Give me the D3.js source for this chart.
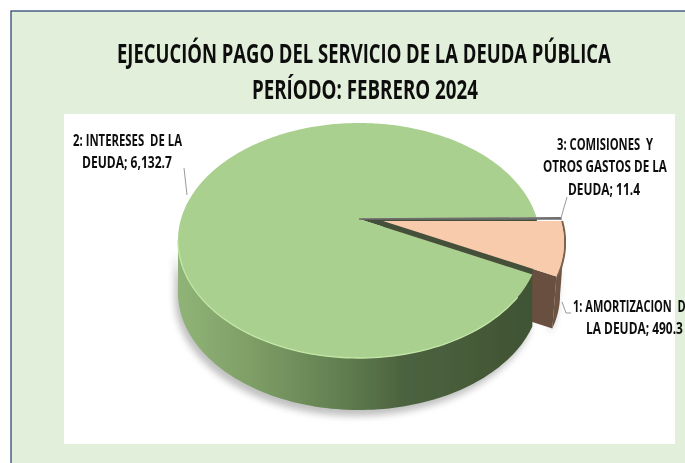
<!DOCTYPE html>
<html><head><meta charset="utf-8">
<script src="https://cdn.jsdelivr.net/npm/d3@7/dist/d3.min.js"></script>
<style>html,body{margin:0;padding:0;background:#fff;overflow:hidden}svg{display:block}
text{font-family:"Open Sans","Liberation Sans",sans-serif;font-weight:700;fill:#111;white-space:pre}</style>
</head><body><svg id="c" width="685" height="463"></svg>
<script>
const titleLines = ["EJECUCIÓN PAGO DEL SERVICIO DE LA DEUDA PÚBLICA", "PERÍODO: FEBRERO 2024"];
const categories = ["1: AMORTIZACION", "2: INTERESES", "3: COMISIONES"];
const values = [490.3, 6132.7, 11.4];
const labelLines = [["1: AMORTIZACION  DE", "LA DEUDA; "], ["2: INTERESES  DE LA", "DEUDA; "], ["3: COMISIONES  Y", "OTROS GASTOS DE LA", "DEUDA; "]];
const colors = ["#f8cbad", "#a9d08e", "#7f7f7f"];

const svg = d3.select("#c");
const defs = svg.append("defs");
defs.append("filter").attr("id","soft").append("feGaussianBlur").attr("stdDeviation",0.45);
defs.append("filter").attr("id","shadow").attr("x","-20%").attr("y","-20%").attr("width","140%").attr("height","140%")
  .append("feGaussianBlur").attr("stdDeviation",3.5);
const wg = defs.append("linearGradient").attr("id","wallG").attr("gradientUnits","userSpaceOnUse")
  .attr("x1",176).attr("x2",540).attr("y1",0).attr("y2",0);
[[0,"#90b478"],[0.2,"#7f9f67"],[0.45,"#617f50"],[0.62,"#4d6340"],[1,"#3f5232"]].forEach(s=>wg.append("stop").attr("offset",s[0]).attr("stop-color",s[1]));

// panel
svg.append("rect").attr("x",11).attr("y",11).attr("width",680).attr("height",460).attr("fill","#e2efda").attr("stroke","#23396b").attr("stroke-width",1.2);
svg.append("rect").attr("x",64).attr("y",114).attr("width",611).attr("height",330).attr("fill","#fff");

// perspective pie
const cx=359, cy=219, R=178, depth=52, c=-0.183, a=73.5;
const project = (theta, r=1) => {
  const u=r*Math.sin(theta), v=-r*Math.cos(theta), w=1+c*v;
  return [cx+R*u/w, (a*v+cy)/w];
};
const arcs = d3.pie().sort(null).startAngle(Math.PI/2).endAngle(Math.PI/2+2*Math.PI)(values);
const [pPeach, pGreen, pThin] = arcs;
const samples = (s,e) => d3.range(0,241).map(i=>s+(e-s)*i/240);
const line = d3.line();
const shift=(p,dx,dy)=>[p[0]+dx,p[1]+dy];
const explodeX=24, explodeY=2, taper=-4;
const isFront = t => -Math.cos(t) >= -c;

const gFront = samples(pGreen.startAngle,pGreen.endAngle).filter(isFront).map(t=>project(t));
const pFront = samples(pPeach.startAngle,pPeach.endAngle).filter(isFront).map(t=>shift(project(t),explodeX,explodeY));
const wallPath = (pts,dx=0) => line(pts.concat(pts.slice().reverse().map(p=>shift(p,dx,depth))))+"Z";

// shadow
const sg = svg.append("g").attr("filter","url(#shadow)").attr("transform","translate(-3,6)").attr("fill","#8c8c8c").attr("opacity",0.55);
sg.append("path").attr("d",wallPath(gFront));
sg.append("path").attr("d",wallPath(pFront,taper));

// peach cut wall
const pApex=[cx+explodeX,cy+explodeY];
const pCorner=shift(project(pPeach.endAngle),explodeX,explodeY);
svg.append("path").attr("filter","url(#soft)").attr("fill","#69503f")
  .attr("d",line([pApex,pCorner,shift(pCorner,taper,depth),shift(pApex,taper,depth)])+"Z");

// green wall and top
svg.append("path").attr("filter","url(#soft)").attr("fill","url(#wallG)").attr("d",wallPath(gFront));
const notch=[[cx,cy],project(pGreen.startAngle),project(pThin.endAngle)];
svg.append("path").attr("fill","#44503a").attr("d",line(notch)+"Z");
svg.append("path").attr("filter","url(#soft)").attr("fill",colors[1])
  .attr("d",line([[cx,cy]].concat(samples(pGreen.startAngle,pGreen.endAngle).map(t=>project(t))))+"Z");
svg.append("path").attr("fill","none").attr("stroke","#c2e6a6").attr("stroke-width",1.3).attr("filter","url(#soft)").attr("d",line(gFront.slice(8)));

// peach wall, rim and top
svg.append("path").attr("filter","url(#soft)").attr("fill","#6d5342").attr("d",wallPath(pFront,taper));
const pArc=samples(pPeach.startAngle,pPeach.endAngle).map(t=>shift(project(t),explodeX,explodeY));
svg.append("path").attr("fill","none").attr("stroke","#7d6250").attr("stroke-width",2.2).attr("filter","url(#soft)")
  .attr("d",line(pArc.map(p=>shift(p,1,0))));
svg.append("path").attr("filter","url(#soft)").attr("fill",colors[0])
  .attr("d",line([pApex].concat(pArc))+"Z");
// thin slice
const tEnd=shift(project(pThin.endAngle),explodeX,0);
svg.append("path").attr("fill",colors[2]).attr("stroke","#6e6e6e").attr("stroke-width",1.4).attr("filter","url(#soft)")
  .attr("d",line([[cx,cy],shift(project(pThin.startAngle),explodeX,0),tEnd])+"Z");

// leader lines
const leaders=[[[562,302],[566,313],[571,313]],[[184,168],[187,195]],[[567,197],[561,218]]];
svg.append("g").attr("fill","none").attr("stroke","#9a9a9a").attr("stroke-width",1)
  .selectAll("path").data(leaders).join("path").attr("d",d=>line(d));

// text squeezed horizontally to the measured widths
const tg=svg.append("g").attr("filter","url(#soft)");
function putText(str,x,y,w,size){
  const t=tg.append("text").attr("font-size",size).text(str);
  const k=w/t.node().getComputedTextLength();
  t.attr("transform",`translate(${x},${y}) scale(${k},1)`);
}
const titlePos=[[117,63,494,26],[252,99,226,26]];
titleLines.forEach((t,i)=>putText(t,...titlePos[i]));

const fmt=d3.format(",.1f");
const labelPos=[[[573,312,119],[586,334,97]],[[73,146,109],[82,168,90]],[[557,150,96],[543,172,124],[568,195,72]]];
labelLines.forEach((lines,i)=>lines.forEach((l,j)=>{
  const txt = j===lines.length-1 ? l+fmt(values[i]) : l;
  putText(txt,...labelPos[i][j],16);
}));
</script></body></html>
